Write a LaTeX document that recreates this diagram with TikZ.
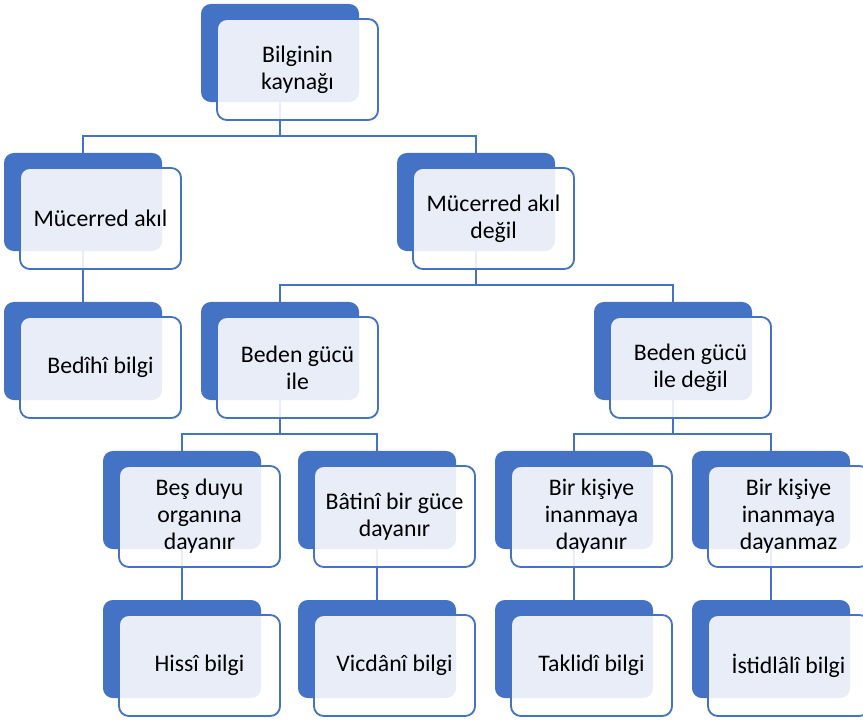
\documentclass[tikz,border=0pt]{standalone}
\usepackage{fontspec}
\setmainfont{Carlito}
\usetikzlibrary{calc,positioning}
\definecolor{kutumavi}{HTML}{4472C4}
\pgfdeclarelayer{zemin}
\pgfsetlayers{zemin,main}

\begin{document}
\begin{tikzpicture}[x=0.025cm, y=-0.025cm,
    arka/.style={rectangle, rounded corners=7pt, fill=kutumavi, inner sep=0pt, outer sep=0pt,
                 minimum width=3.95cm, minimum height=2.45cm, anchor=north west},
    on/.style={rectangle, rounded corners=7pt, draw=kutumavi, line width=1.3pt, fill=white,
               fill opacity=0.88, text opacity=1, inner sep=0pt, outer sep=0pt,
               minimum width=4.025cm, minimum height=2.525cm, anchor=north west,
               align=center, font=\fontsize{16.9}{19.3}\selectfont},
    bag/.style={draw=kutumavi, line width=1.4pt}]
    \useasboundingbox (0,0) rectangle (863,721);

    % seviye 0
    \node[arka] (kaynakB) at (201,4) {};
    \node[on] (kaynak) at ($(kaynakB.north west)+(16,15)$) {Bilginin\\kaynağı};

    % seviye 1
    \node[arka] (akilB) at (4,153) {};
    \node[on] (akil) at ($(akilB.north west)+(16,15)$) {Mücerred akıl};
    \node[arka] (akildB) at (397,153) {};
    \node[on] (akild) at ($(akildB.north west)+(16,15)$) {Mücerred akıl\\değil};

    % seviye 2
    \node[arka] (bedihiB) at (4,302) {};
    \node[on] (bedihi) at ($(bedihiB.north west)+(16,15)$) {Bedîhî bilgi};
    \node[arka] (bileB) at (201,302) {};
    \node[on] (bile) at ($(bileB.north west)+(16,15)$) {Beden gücü\\ile};
    \node[arka] (bdegilB) at (594,302) {};
    \node[on] (bdegil) at ($(bdegilB.north west)+(16,15)$) {Beden gücü\\ile değil};

    % seviye 3
    \node[arka] (besB) at (103,451) {};
    \node[on] (bes) at ($(besB.north west)+(16,15)$) {Beş duyu\\organına\\dayanır};
    \node[arka] (batiniB) at (298,451) {};
    \node[on] (batini) at ($(batiniB.north west)+(16,15)$) {Bâtinî bir güce\\dayanır};
    \node[arka] (inanirB) at (495,451) {};
    \node[on] (inanir) at ($(inanirB.north west)+(16,15)$) {Bir kişiye\\inanmaya\\dayanır};
    \node[arka] (inanmazB) at (692,451) {};
    \node[on] (inanmaz) at ($(inanmazB.north west)+(16,15)$) {Bir kişiye\\inanmaya\\dayanmaz};

    % seviye 4
    \node[arka] (hissiB) at (103,600) {};
    \node[on] (hissi) at ($(hissiB.north west)+(16,15)$) {Hissî bilgi};
    \node[arka] (vicdaniB) at (298,600) {};
    \node[on] (vicdani) at ($(vicdaniB.north west)+(16,15)$) {Vicdânî bilgi};
    \node[arka] (taklidiB) at (495,600) {};
    \node[on] (taklidi) at ($(taklidiB.north west)+(16,15)$) {Taklidî bilgi};
    \node[arka] (istidlaliB) at (692,600) {};
    \node[on] (istidlali) at ($(istidlaliB.north west)+(16,15)$) {İstidlâlî bilgi};

    % baglantilar
    \begin{pgfonlayer}{zemin}
        \draw[bag] (kaynakB.south) -- ++(0,34) -| (akilB.north);
        \draw[bag] (kaynakB.south) -- ++(0,34) -| (akildB.north);
        \draw[bag] (akilB.south) -- (bedihiB.north);
        \draw[bag] (akildB.south) -- ++(0,34) -| (bileB.north);
        \draw[bag] (akildB.south) -- ++(0,34) -| (bdegilB.north);
        \draw[bag] (bileB.south) -- ++(0,34) -| (besB.north);
        \draw[bag] (bileB.south) -- ++(0,34) -| (batiniB.north);
        \draw[bag] (bdegilB.south) -- ++(0,34) -| (inanirB.north);
        \draw[bag] (bdegilB.south) -- ++(0,34) -| (inanmazB.north);
        \draw[bag] (besB.south) -- (hissiB.north);
        \draw[bag] (batiniB.south) -- (vicdaniB.north);
        \draw[bag] (inanirB.south) -- (taklidiB.north);
        \draw[bag] (inanmazB.south) -- (istidlaliB.north);
    \end{pgfonlayer}
\end{tikzpicture}
\end{document}
